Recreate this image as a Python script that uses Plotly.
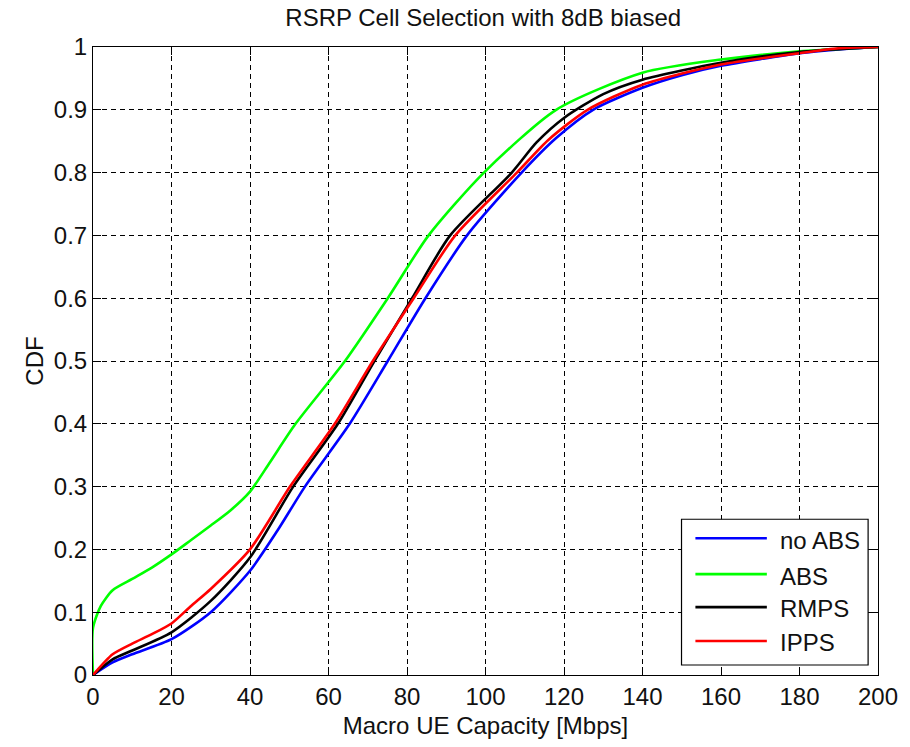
import plotly.graph_objects as go

# Macro UE capacity (Mbps) vs CDF for each scheme
no_abs_x = [0, 5, 10, 20, 30, 40, 47, 54, 65.4, 75.1, 84.7, 95.3, 109.2, 118, 127.4, 140, 150, 160, 180, 190, 200]
no_abs_y = [0, 0.02, 0.033, 0.057, 0.10, 0.166, 0.23, 0.30, 0.40, 0.50, 0.60, 0.70, 0.80, 0.855, 0.90, 0.935, 0.955, 0.97, 0.99, 0.996, 1.0]

abs_x = [0, 0, 2, 5, 10, 15, 20, 25, 30, 35, 40, 45, 51.6, 64.2, 75.1, 85.5, 99.6, 118, 140, 160, 180, 200]
abs_y = [0, 0.075, 0.11, 0.135, 0.153, 0.171, 0.192, 0.215, 0.238, 0.262, 0.292, 0.338, 0.40, 0.50, 0.60, 0.70, 0.80, 0.90, 0.959, 0.98, 0.993, 1.0]

rmps_x = [0, 5, 10, 20, 30, 40, 51, 62.4, 71.7, 81.3, 91, 106.7, 113, 120, 130, 140, 160, 180, 200]
rmps_y = [0, 0.025, 0.039, 0.068, 0.118, 0.187, 0.30, 0.40, 0.50, 0.60, 0.70, 0.80, 0.848, 0.887, 0.925, 0.948, 0.975, 0.992, 1.0]

ipps_x = [0, 5, 10, 15, 20, 25, 30, 40, 50.2, 61.6, 71.3, 81.7, 92.3, 108, 116, 126, 140, 160, 180, 190, 200]
ipps_y = [0, 0.033, 0.05, 0.065, 0.082, 0.11, 0.137, 0.20, 0.30, 0.40, 0.50, 0.60, 0.70, 0.80, 0.852, 0.90, 0.94, 0.972, 0.99, 0.998, 1.0]

series = [
    ("no ABS", no_abs_x, no_abs_y, "#0000FF"),
    ("ABS", abs_x, abs_y, "#00FF00"),
    ("RMPS", rmps_x, rmps_y, "#000000"),
    ("IPPS", ipps_x, ipps_y, "#FF0000"),
]

x_ticks = list(range(0, 201, 20))
y_ticks = [i / 10 for i in range(11)]
y_tick_text = ["0", "0.1", "0.2", "0.3", "0.4", "0.5", "0.6", "0.7", "0.8", "0.9", "1"]

FONT = "Liberation Sans, Arial, sans-serif"
TEXT = "#111111"

fig = go.Figure()
for name, xs, ys, color in series:
    fig.add_trace(go.Scatter(x=xs, y=ys, mode="lines", name=name,
                             line=dict(color=color, width=2.6, shape="spline", smoothing=0.7),
                             showlegend=False))

axis_common = dict(
    showline=True, linecolor="black", linewidth=1, mirror="allticks",
    ticks="inside", ticklen=8, tickcolor="black", tickwidth=1,
    showgrid=True, gridcolor="black", gridwidth=1, griddash="5px,4px",
    zeroline=False, ticklabeloverflow="allow",
    tickfont=dict(size=24, color=TEXT, family=FONT),
)

fig.update_layout(
    width=910, height=747,
    margin=dict(l=93, r=26, t=47, b=71),
    paper_bgcolor="white", plot_bgcolor="white",
    font=dict(family=FONT, size=24, color=TEXT),
    title=dict(text="RSRP Cell Selection with 8dB biased", x=0.531, xanchor="center",
               y=1 - 18 / 747, yanchor="middle", yref="container",
               font=dict(size=24, family=FONT, color=TEXT)),
    xaxis=dict(range=[0, 200], tickvals=x_ticks,
               title=dict(text="Macro UE Capacity [Mbps]", standoff=8,
                          font=dict(size=24, family=FONT, color=TEXT)),
               **axis_common),
    yaxis=dict(range=[0, 1], tickvals=y_ticks, ticktext=y_tick_text,
               title=dict(text="CDF", standoff=3,
                          font=dict(size=24, family=FONT, color=TEXT)),
               **axis_common),
)

# Legend box drawn in the lower-right corner of the axes
lx0, lx1, ly0, ly1 = 0.7497, 0.9874, 0.0159, 0.248
fig.add_shape(type="rect", xref="paper", yref="paper", x0=lx0, x1=lx1, y0=ly0, y1=ly1,
              line=dict(color="black", width=1.2), fillcolor="white", layer="above")
legend_rows = [0.2178, 0.1606, 0.1081, 0.0541]
for (name, _, _, color), yy in zip(series, legend_rows):
    fig.add_shape(type="line", xref="paper", yref="paper", x0=0.7674, x1=0.8584, y0=yy, y1=yy,
                  line=dict(color=color, width=2.6), layer="above")
    fig.add_annotation(xref="paper", yref="paper", x=0.8723, y=yy - 0.003, text=name,
                       showarrow=False, xanchor="left", yanchor="middle",
                       font=dict(size=24, family=FONT, color=TEXT))

fig.write_html("out.html")
